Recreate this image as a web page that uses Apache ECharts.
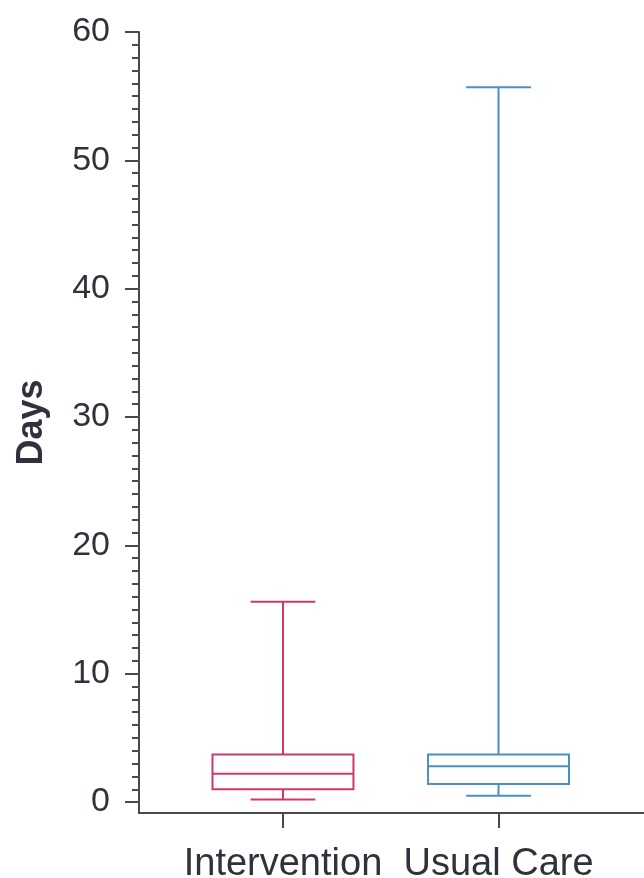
<!DOCTYPE html>
<html>
<head>
<meta charset="utf-8">
<script src="https://cdn.jsdelivr.net/npm/echarts@6/dist/echarts.min.js"></script>
<style>
  html, body { margin: 0; padding: 0; background: #fff; }
  #chart { width: 644px; height: 878px; }
</style>
</head>
<body>
<div id="chart"></div>
<script>
// Length of stay (days) by study arm
const categories = ['Intervention', 'Usual Care'];
const whiskerLow = [0.2, 0.5];
const q1 = [1.0, 1.4];
const median = [2.2, 2.8];
const q3 = [3.7, 3.7];
const whiskerHigh = [15.6, 55.7];
const yTicks = [0, 10, 20, 30, 40, 50, 60];

const armColors = ['#cc3a6b', '#4b8fc3'];
const inkColor = '#2f323a';
const axisColor = '#4a4a4a';
const fontFamily = 'Liberation Sans, Arial, sans-serif';

const minorTicks = [];
for (let v = 0; v <= 60; v++) minorTicks.push(v);

const seriesData = categories.map((c, i) => [i, whiskerLow[i], q1[i], median[i], q3[i], whiskerHigh[i]]);

function renderBox(params, api) {
  const i = api.value(0);
  const color = armColors[i];
  const band = api.size([1, 0])[0];
  const boxHalf = band * 0.327;
  const capHalf = boxHalf * 0.46;
  const x = api.coord([i, 0])[0];
  const yLow = api.coord([i, api.value(1)])[1];
  const yQ1 = api.coord([i, api.value(2)])[1];
  const yMed = api.coord([i, api.value(3)])[1];
  const yQ3 = api.coord([i, api.value(4)])[1];
  const yHigh = api.coord([i, api.value(5)])[1];
  const style = { stroke: color, lineWidth: 2, fill: null };
  const line = (x1, y1, x2, y2) => ({ type: 'line', shape: { x1, y1, x2, y2 }, style });
  return {
    type: 'group',
    children: [
      { type: 'rect', shape: { x: x - boxHalf, y: yQ3, width: 2 * boxHalf, height: yQ1 - yQ3 }, style },
      line(x - boxHalf, yMed, x + boxHalf, yMed),
      line(x, yQ3, x, yHigh),
      line(x, yQ1, x, yLow),
      line(x - capHalf, yHigh, x + capHalf, yHigh),
      line(x - capHalf, yLow, x + capHalf, yLow)
    ]
  };
}

const chart = echarts.init(document.getElementById('chart'), null, { renderer: 'canvas' });
chart.setOption({
  backgroundColor: '#ffffff',
  animation: false,
  grid: { left: 139, right: 0, top: 32, bottom: 65, containLabel: false, outerBoundsMode: 'none' },
  xAxis: {
    type: 'value',
    min: -0.668,
    max: 1.675,
    splitLine: { show: false },
    axisLine: { show: true, onZero: false, lineStyle: { color: axisColor, width: 2 } },
    axisTick: { show: true, customValues: [0, 1], length: 15, lineStyle: { color: axisColor, width: 2 } },
    axisLabel: {
      customValues: [0, 1],
      formatter: v => categories[Math.round(v)],
      color: inkColor,
      fontSize: 38,
      fontFamily,
      margin: 33
    }
  },
  yAxis: [
    {
      type: 'value',
      min: -0.85,
      max: 60,
      name: 'Days',
      nameLocation: 'middle',
      nameRotate: 90,
      nameGap: 89,
      nameTextStyle: { color: inkColor, fontSize: 36, fontWeight: 'bold', fontFamily },
      splitLine: { show: false },
      axisLine: { show: true, onZero: false, lineStyle: { color: axisColor, width: 2 } },
      axisTick: { show: true, customValues: yTicks, length: 14, lineStyle: { color: axisColor, width: 2 } },
      axisLabel: { customValues: yTicks, color: inkColor, fontSize: 34, fontFamily, margin: 29 }
    },
    {
      type: 'value',
      min: -0.85,
      max: 60,
      position: 'left',
      splitLine: { show: false },
      axisLine: { show: false, onZero: false },
      axisTick: { show: true, customValues: minorTicks, length: 7, lineStyle: { color: axisColor, width: 2 } },
      axisLabel: { show: false }
    }
  ],
  series: [{
    type: 'custom',
    renderItem: renderBox,
    data: seriesData,
    encode: { x: 0, y: [1, 2, 3, 4, 5] },
    clip: false
  }]
});
</script>
</body>
</html>
